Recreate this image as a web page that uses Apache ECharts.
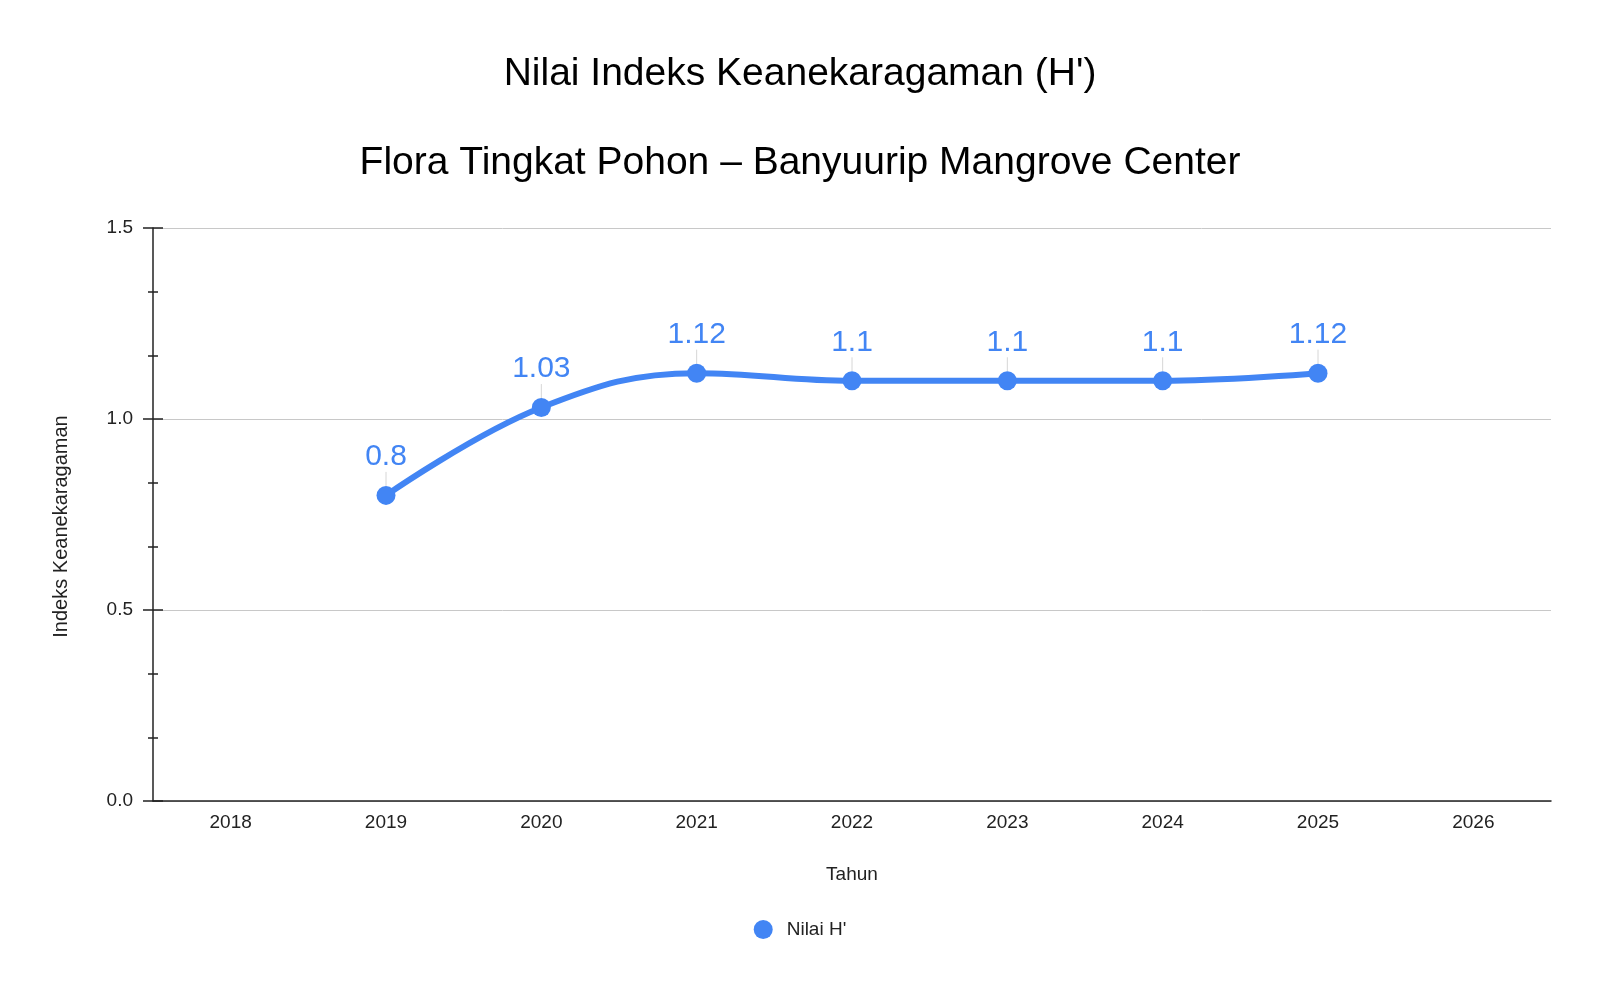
<!DOCTYPE html>
<html>
<head>
<meta charset="utf-8">
<title>Nilai Indeks Keanekaragaman (H')</title>
<script src="https://cdn.jsdelivr.net/npm/echarts@6/dist/echarts.min.js"></script>
<style>
  html, body { margin: 0; padding: 0; background: #fff; }
  #chart { width: 1600px; height: 990px; }
</style>
</head>
<body>
<div id="chart"></div>
<script>
// data
var years = ['2018', '2019', '2020', '2021', '2022', '2023', '2024', '2025', '2026'];
var nilaiH = [null, 0.8, 1.03, 1.12, 1.1, 1.1, 1.1, 1.12, null];
var titleLines = ["Nilai Indeks Keanekaragaman (H')", 'Flora Tingkat Pohon – Banyuurip Mangrove Center'];

var FONT = '"Liberation Sans", Arial, sans-serif';
var BLUE = '#4285F4';

var chart = echarts.init(document.getElementById('chart'));

var option = {
  backgroundColor: '#fff',
  textStyle: { fontFamily: FONT },
  title: [
    {
      text: titleLines[0], left: 'center', top: 50,
      textStyle: { fontFamily: FONT, fontSize: 39, fontWeight: 'normal', color: '#000' }
    },
    {
      text: titleLines[1], left: 'center', top: 139,
      textStyle: { fontFamily: FONT, fontSize: 39, fontWeight: 'normal', color: '#000' }
    }
  ],
  legend: {
    bottom: 46,
    left: 'center',
    icon: 'circle',
    itemWidth: 19,
    itemHeight: 19,
    textStyle: { fontFamily: FONT, fontSize: 19, color: '#222', padding: [0, 0, 0, 9] },
    data: ["Nilai H'"]
  },
  grid: { left: 153, right: 49, top: 228, bottom: 189 },
  xAxis: {
    type: 'category',
    data: years,
    boundaryGap: true,
    name: 'Tahun',
    nameLocation: 'middle',
    nameGap: 64,
    nameTextStyle: { fontFamily: FONT, fontSize: 19, color: '#222' },
    axisLine: { lineStyle: { color: '#222', width: 1.5 } },
    axisTick: { show: false },
    axisLabel: { fontFamily: FONT, fontSize: 19, color: '#222', margin: 12 }
  },
  yAxis: [
    {
      type: 'value',
      min: 0, max: 1.5, interval: 0.5,
      name: 'Indeks Keanekaragaman',
      nameLocation: 'middle',
      nameGap: 82,
      nameTextStyle: { fontFamily: FONT, fontSize: 20, color: '#222', padding: [0, 24, 0, 0] },
      axisLine: { show: true, lineStyle: { color: '#222', width: 1.5 } },
      axisTick: { show: true, length: 10, lineStyle: { color: '#222', width: 1.5 } },
      minorTick: { show: true, splitNumber: 3, length: 5, lineStyle: { color: '#222', width: 1.5 } },
      axisLabel: {
        fontFamily: FONT, fontSize: 19, color: '#222', margin: 20,
        formatter: function (v) { return v.toFixed(1); }
      },
      splitLine: { show: true, lineStyle: { color: '#c8c8c8', width: 1 } }
    },
    {
      // second copy of the axis only for the inward half of the ticks
      type: 'value',
      position: 'left',
      min: 0, max: 1.5, interval: 0.5,
      axisLine: { show: false },
      axisTick: { show: true, inside: true, length: 10, lineStyle: { color: '#222', width: 1.5 } },
      minorTick: { show: true, splitNumber: 3, length: 5, lineStyle: { color: '#222', width: 1.5 } },
      axisLabel: { show: false },
      splitLine: { show: false }
    }
  ],
  series: [
    {
      name: "Nilai H'",
      type: 'line',
      data: nilaiH,
      smooth: 0.4,
      connectNulls: false,
      symbol: 'circle',
      symbolSize: 19,
      showSymbol: true,
      color: BLUE,
      lineStyle: { color: BLUE, width: 6 },
      itemStyle: { color: BLUE },
      label: {
        show: true,
        position: 'top',
        distance: 2,
        fontFamily: FONT,
        fontSize: 30,
        color: BLUE
      },
      labelLayout: { dy: -12 },
      labelLine: { show: true, lineStyle: { color: '#d6d6d6', width: 1 } },
      emphasis: { disabled: true }
    }
  ]
};

chart.setOption(option);
</script>
</body>
</html>
